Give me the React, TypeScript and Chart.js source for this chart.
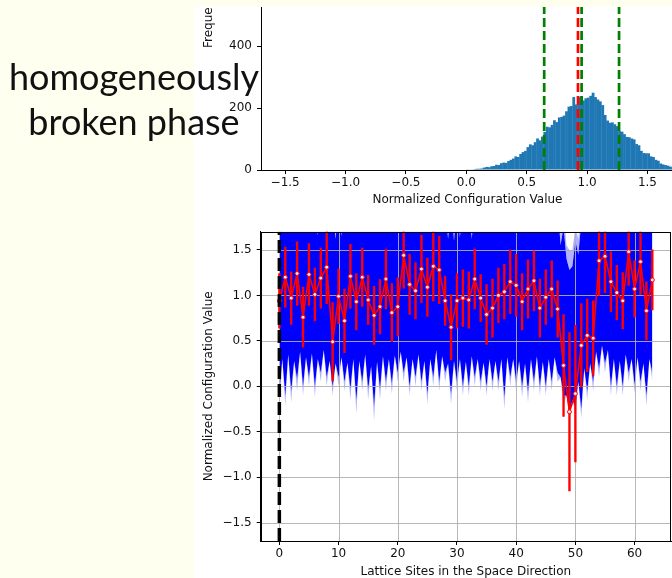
import React, { useEffect, useRef } from 'react';
import { Chart, registerables } from 'chart.js';

Chart.register(...registerables);

const FONT_FAMILY = "'DejaVu Sans', sans-serif";
const TEXT_COLOR = '#111111';

// ---------------- Histogram (top) ----------------
const histBinStart = 0.0;
const histBinWidth = 0.02;
const histCounts = [
  1, 2, 2, 3, 4, 4, 5, 8, 10, 9,
  12, 13, 17, 16, 22, 24, 23, 29, 33, 37,
  44, 42, 52, 58, 62, 74, 83, 80, 90, 102,
  96, 108, 123, 140, 138, 146, 161, 155, 170, 172,
  176, 190, 205, 207, 236, 212, 235, 238, 225, 232,
  234, 240, 250, 236, 228, 222, 210, 178, 160, 153,
  154, 148, 142, 126, 124, 116, 107, 106, 102, 99,
  84, 80, 62, 55, 54, 54, 44, 42, 33, 30,
  21, 18, 16, 14, 11, 9,
];
const histRedLine = 0.925;
const histGreenLines = [0.645, 0.955, 1.265];
const histXTicks = [-1.5, -1.0, -0.5, 0.0, 0.5, 1.0, 1.5];
const histYTicks = [0, 200, 400, 600, 800];
const histXMin = -1.7;
const histXMax = 1.72;
const histYMax = 990;

// ---------------- Lattice profile (bottom) ----------------
const siteMeans = [
  0.94, 1.20, 0.97, 1.24, 0.76, 1.23, 1.01, 1.19, 1.31, 0.49,
  0.99, 0.72, 1.21, 0.93, 1.20, 0.95, 0.78, 0.875, 1.18, 0.81,
  0.875, 1.44, 1.12, 1.05, 1.29, 1.09, 1.32, 1.28, 0.94, 0.65,
  0.94, 0.97, 0.95, 1.18, 0.97, 0.79, 0.86, 1.00, 1.04, 1.15,
  1.11, 0.93, 1.07, 1.16, 0.86, 0.98, 1.07, 0.85, 0.23, -0.28,
  -0.08, 0.45, 0.56, 0.53, 1.38, 1.43, 1.15, 1.03, 0.94, 1.48,
  1.07, 1.37, 0.83, 1.17,
];
const siteErrors = [
  0.30, 0.33, 0.29, 0.35, 0.33, 0.34, 0.29, 0.33, 0.40, 0.43,
  0.30, 0.35, 0.35, 0.31, 0.32, 0.27, 0.32, 0.30, 0.33, 0.32,
  0.32, 0.36, 0.33, 0.31, 0.37, 0.32, 0.38, 0.37, 0.27, 0.36,
  0.30, 0.31, 0.31, 0.33, 0.26, 0.33, 0.32, 0.30, 0.30, 0.35,
  0.34, 0.31, 0.32, 0.33, 0.32, 0.30, 0.31, 0.31, 0.56, 0.87,
  0.75, 0.46, 0.40, 0.41, 0.38, 0.40, 0.33, 0.30, 0.31, 0.37,
  0.31, 0.36, 0.32, 0.33,
];
// lower envelope of the sample band: dense part and faint tails at each site
const bandLowerSolid = [
  -0.08, -0.10, -0.05, 0.08, 0.00, 0.10, 0.00, 0.15, 0.10, 0.00,
  0.10, 0.05, -0.03, -0.15, 0.05, -0.03, -0.22, -0.03, 0.05, 0.03,
  0.15, 0.15, 0.00, 0.10, 0.05, -0.08, 0.10, 0.05, 0.15, -0.08,
  0.05, 0.00, 0.00, 0.10, 0.05, 0.00, 0.05, 0.05, -0.12, 0.10,
  0.05, 0.00, -0.06, 0.05, 0.00, 0.00, 0.05, 0.15, -0.10, -0.28,
  -0.22, -0.25, -0.05, 0.05, 0.20, 0.25, 0.00, 0.00, 0.00, 0.15,
  0.02, 0.05, -0.10, 0.15,
];
const bandLowerFaint = [
  -0.20, -0.22, -0.18, -0.05, -0.10, 0.00, -0.12, 0.05, 0.00, -0.10,
  0.00, -0.05, -0.15, -0.30, -0.05, -0.15, -0.38, -0.15, -0.05, -0.08,
  0.05, 0.05, -0.10, 0.00, -0.05, -0.20, 0.00, -0.05, 0.05, -0.20,
  -0.05, -0.10, -0.10, 0.00, -0.05, -0.10, -0.05, -0.05, -0.25, 0.00,
  -0.05, -0.12, -0.18, -0.05, -0.10, -0.10, -0.05, 0.05, -0.20, -0.35,
  -0.30, -0.35, -0.15, -0.05, 0.10, 0.15, -0.10, -0.10, -0.10, 0.05,
  -0.08, -0.05, -0.22, 0.05,
];
// lower envelope between neighbouring sites
const bandLowerMid = [
  0.30, 0.35, 0.28, 0.38, 0.32, 0.36, 0.30, 0.40, 0.28, 0.25,
  0.32, 0.26, 0.30, 0.28, 0.35, 0.22, 0.27, 0.33, 0.30, 0.34,
  0.38, 0.32, 0.30, 0.35, 0.28, 0.30, 0.40, 0.33, 0.25, 0.28,
  0.30, 0.27, 0.33, 0.30, 0.26, 0.30, 0.28, 0.30, 0.32, 0.30,
  0.28, 0.25, 0.30, 0.33, 0.27, 0.30, 0.32, 0.10, -0.10, -0.15,
  0.05, 0.20, 0.25, 0.38, 0.45, 0.40, 0.30, 0.28, 0.35, 0.30,
  0.32, 0.25, 0.30,
];
// upper envelope: above the plot except where it dips
const bandCeiling = 2.0;
const bandUpperDipX = [6.5, 9.5, 10.5, 28.5, 29.5, 30.5, 32.5, 47.5, 48, 48.5, 49, 49.5, 50, 50.5, 51];
const bandUpperDipSolid = [1.66, 1.62, 1.65, 1.62, 1.60, 1.64, 1.62, 1.55, 1.75, 1.40, 1.28, 1.32, 1.60, 1.45, 1.80];
const bandUpperDipFaint = [2.0, 2.0, 2.0, 2.0, 2.0, 2.0, 2.0, 1.75, 2.0, 1.55, 1.50, 1.50, 1.75, 1.62, 2.0];

const latticeXTicks = [0, 10, 20, 30, 40, 50, 60];
const latticeYTicks = [-1.5, -1.0, -0.5, 0.0, 0.5, 1.0, 1.5];
const latticeXMin = -3.15;
const latticeXMax = 66.15;
const latticeYMin = -1.7;
const latticeYMax = 1.7;
const boundarySite = 0;

const fmt1 = (v: number) => v.toFixed(1).replace('-', '\u2212');
const fmt0 = (v: number) => String(Math.round(v)).replace('-', '\u2212');

const tickFont = { family: FONT_FAMILY, size: 12 };
const titleFont = { family: FONT_FAMILY, size: 12, lineHeight: 1 };

const fitX = (h: number) => (s: any) => { s.height = h; s.paddingLeft = 0; s.paddingRight = 0; };
const fitY = (w: number) => (s: any) => { s.width = w; s.paddingTop = 0; s.paddingBottom = 0; };

function HistogramChart() {
  const ref = useRef<HTMLCanvasElement | null>(null);
  useEffect(() => {
    if (!ref.current) return;
    const bars = histCounts.map((c, i) => ({ x: histBinStart + (i + 0.5) * histBinWidth, y: c }));
    const vline = (v: number) => [{ x: v, y: 0 }, { x: v, y: histYMax }];
    const datasets: any[] = [
      {
        type: 'bar',
        data: bars,
        backgroundColor: '#1f77b4',
        borderWidth: 0,
        barPercentage: 1.15,
        categoryPercentage: 1,
        order: 5,
      },
      {
        type: 'line',
        data: vline(histRedLine),
        borderColor: '#ff0000',
        borderWidth: 2.7,
        borderDash: [9, 4],
        pointRadius: 0,
        pointHoverRadius: 0,
        order: 2,
      },
      ...histGreenLines.map((v) => ({
        type: 'line',
        data: vline(v),
        borderColor: '#008000',
        borderWidth: 2.7,
        borderDash: [9, 4],
        pointRadius: 0,
        pointHoverRadius: 0,
        order: 1,
      })),
    ];
    const chart = new Chart(ref.current, {
      type: 'line',
      data: { datasets },
      options: {
        animation: false,
        responsive: false,
        events: [],
        layout: { autoPadding: false, padding: { top: 10, right: 6, bottom: 0, left: 0 } },
        plugins: { legend: { display: false }, tooltip: { enabled: false } },
        scales: {
          x: {
            type: 'linear',
            min: histXMin,
            max: histXMax,
            offset: false,
            afterBuildTicks: (s: any) => { s.ticks = histXTicks.map((value) => ({ value })); },
            afterFit: fitX(40),
            ticks: { font: tickFont, color: TEXT_COLOR, padding: 2, autoSkip: false, maxRotation: 0, callback: (v: any) => fmt1(Number(v)) },
            grid: { drawOnChartArea: false, drawTicks: true, tickLength: 4, color: '#000', offset: false },
            border: { display: true, color: '#000', width: 1 },
            title: { display: true, text: 'Normalized Configuration Value', font: titleFont, color: TEXT_COLOR, padding: { top: 0, bottom: 4 } },
          },
          y: {
            type: 'linear',
            min: 0,
            max: histYMax,
            afterBuildTicks: (s: any) => { s.ticks = histYTicks.map((value) => ({ value })); },
            afterFit: fitY(67),
            ticks: { font: tickFont, color: TEXT_COLOR, padding: 5, autoSkip: false, callback: (v: any) => fmt0(Number(v)) },
            grid: { drawOnChartArea: false, drawTicks: true, tickLength: 4, color: '#000' },
            border: { display: true, color: '#000', width: 1 },
            title: { display: true, text: 'Frequency', font: titleFont, color: TEXT_COLOR, padding: { top: 8.5, bottom: 0 } },
          },
        },
      } as any,
    });
    return () => chart.destroy();
  }, []);
  return <canvas ref={ref} width={486} height={356} style={{ position: 'absolute', left: 0, top: -153, width: 486, height: 356 }} />;
}

function LatticeChart() {
  const ref = useRef<HTMLCanvasElement | null>(null);
  useEffect(() => {
    if (!ref.current) return;
    const nSites = siteMeans.length;
    const bandX: number[] = [];
    for (let i = 0; i < nSites; i++) {
      bandX.push(i);
      if (i < nSites - 1) bandX.push(i + 0.5);
    }
    const lowerPts = (siteVals: number[]) =>
      bandX.map((x, k) => ({ x, y: k % 2 === 0 ? siteVals[k / 2] : bandLowerMid[(k - 1) / 2] }));
    const upperPts = (dipVals: number[]) =>
      bandX.map((x) => {
        const j = bandUpperDipX.indexOf(x);
        return { x, y: j >= 0 ? dipVals[j] : bandCeiling };
      });
    const bandLine = { type: 'line', borderWidth: 0, pointRadius: 0, pointHoverRadius: 0, borderColor: 'rgba(0,0,0,0)', order: 10 };
    const datasets: any[] = [
      { ...bandLine, data: upperPts(bandUpperDipFaint), fill: false },
      { ...bandLine, data: upperPts(bandUpperDipSolid), fill: '-1', backgroundColor: 'rgba(0,0,255,0.3)' },
      { ...bandLine, data: lowerPts(bandLowerSolid), fill: '-1', backgroundColor: 'rgba(0,0,255,1)' },
      { ...bandLine, data: lowerPts(bandLowerFaint), fill: '-1', backgroundColor: 'rgba(0,0,255,0.3)' },
      {
        type: 'bar',
        data: siteMeans.map((m, i) => ({ x: i, y: [m - siteErrors[i], m + siteErrors[i]] })),
        backgroundColor: '#ff0000',
        borderWidth: 0,
        barThickness: 1.7,
        order: 3,
      },
      {
        type: 'line',
        data: siteMeans.map((m, i) => ({ x: i, y: m })),
        borderColor: '#ff0000',
        borderWidth: 1.6,
        pointRadius: 2,
        pointHoverRadius: 2,
        pointBackgroundColor: '#ffe4e4',
        pointBorderColor: '#ff0000',
        pointBorderWidth: 1,
        fill: false,
        order: 2,
      },
      {
        type: 'line',
        data: [{ x: boundarySite, y: latticeYMin }, { x: boundarySite, y: latticeYMax }],
        borderColor: '#000000',
        borderWidth: 3.5,
        borderDash: [13, 5],
        pointRadius: 0,
        pointHoverRadius: 0,
        fill: false,
        order: 1,
      },
    ];
    const gridAndFrame = {
      id: 'gridAndFrame',
      beforeDatasetsDraw(chart: any) {
        const { ctx, chartArea: a, scales } = chart;
        ctx.save();
        ctx.beginPath();
        ctx.rect(a.left, a.top, a.right - a.left, a.bottom - a.top);
        ctx.clip();
        ctx.strokeStyle = '#b0b0b0';
        ctx.lineWidth = 0.9;
        for (const v of latticeXTicks) {
          const px = Math.round(scales.x.getPixelForValue(v)) + 0.5;
          ctx.beginPath(); ctx.moveTo(px, a.top); ctx.lineTo(px, a.bottom); ctx.stroke();
        }
        for (const v of latticeYTicks) {
          const py = Math.round(scales.y.getPixelForValue(v)) + 0.5;
          ctx.beginPath(); ctx.moveTo(a.left, py); ctx.lineTo(a.right, py); ctx.stroke();
        }
        ctx.restore();
      },
      afterDatasetsDraw(chart: any) {
        const { ctx, chartArea: a } = chart;
        ctx.save();
        ctx.strokeStyle = '#000';
        ctx.lineWidth = 1;
        ctx.strokeRect(Math.round(a.left) + 0.5, Math.round(a.top) + 0.5, Math.round(a.right - a.left) - 1, Math.round(a.bottom - a.top));
        ctx.restore();
      },
    };
    const chart = new Chart(ref.current, {
      type: 'line',
      data: { datasets },
      plugins: [gridAndFrame],
      options: {
        animation: false,
        responsive: false,
        events: [],
        layout: { autoPadding: false, padding: { top: 11.7, right: 1, bottom: 0, left: 0 } },
        plugins: { legend: { display: false }, tooltip: { enabled: false }, filler: { drawTime: 'beforeDatasetsDraw' } },
        scales: {
          x: {
            type: 'linear',
            min: latticeXMin,
            max: latticeXMax,
            offset: false,
            afterBuildTicks: (s: any) => { s.ticks = latticeXTicks.map((value) => ({ value })); },
            afterFit: fitX(37),
            ticks: { font: tickFont, color: TEXT_COLOR, padding: 2, autoSkip: false, maxRotation: 0, callback: (v: any) => fmt0(Number(v)) },
            grid: { drawOnChartArea: false, drawTicks: true, tickLength: 4, color: '#000', offset: false },
            border: { display: true, color: '#000', width: 1 },
            title: { display: true, text: 'Lattice Sites in the Space Direction', font: titleFont, color: TEXT_COLOR, padding: { top: 0, bottom: 0 } },
          },
          y: {
            type: 'linear',
            min: latticeYMin,
            max: latticeYMax,
            afterBuildTicks: (s: any) => { s.ticks = latticeYTicks.map((value) => ({ value })); },
            afterFit: fitY(66.7),
            ticks: { font: tickFont, color: TEXT_COLOR, padding: 5, autoSkip: false, callback: (v: any) => fmt1(Number(v)) },
            grid: { drawOnChartArea: false, drawTicks: true, tickLength: 4, color: '#000' },
            border: { display: true, color: '#000', width: 1 },
            title: { display: true, text: 'Normalized Configuration Value', font: titleFont, color: TEXT_COLOR, padding: { top: 8.5, bottom: 0 } },
          },
        },
      } as any,
    });
    return () => chart.destroy();
  }, []);
  return <canvas ref={ref} width={478} height={358} style={{ position: 'absolute', left: 0, top: 213, width: 478, height: 358 }} />;
}

export default function App() {
  return (
    <div style={{ position: 'absolute', left: 0, top: 0, width: 672, height: 578, background: '#fffff0', overflow: 'hidden' }}>
      <div style={{ position: 'absolute', left: 194, top: 7, width: 478, height: 571, background: '#ffffff', overflow: 'hidden' }}>
        <HistogramChart />
        <LatticeChart />
      </div>
      <div
        style={{
          position: 'absolute',
          left: 0,
          top: 54,
          width: 268,
          textAlign: 'center',
          fontFamily: 'Lato, sans-serif',
          fontWeight: 400,
          fontSize: 36,
          lineHeight: '45px',
          color: '#111111',
          zIndex: 5,
          whiteSpace: 'nowrap',
        }}
      >
        homogeneously
        <br />
        broken phase
      </div>
    </div>
  );
}
